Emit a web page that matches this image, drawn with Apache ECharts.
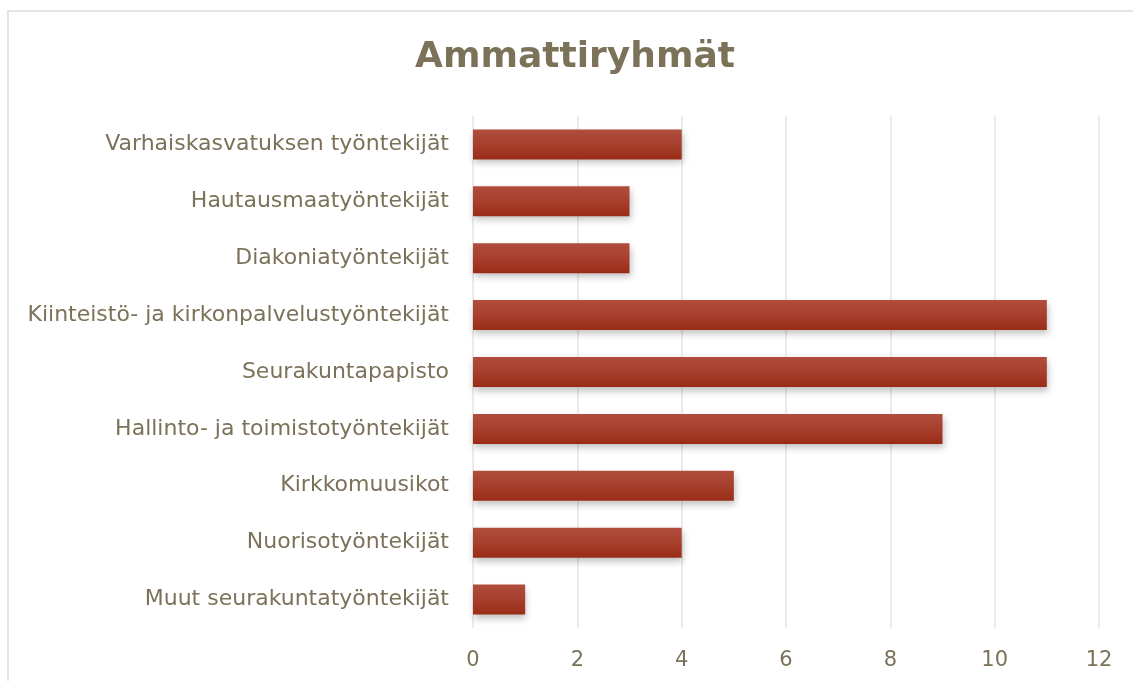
<!DOCTYPE html>
<html>
<head>
<meta charset="utf-8">
<title>Ammattiryhmät</title>
<script src="https://cdn.jsdelivr.net/npm/echarts@6/dist/echarts.min.js"></script>
<style>
  html, body { margin: 0; padding: 0; background: #fff; }
  #chart { width: 1133px; height: 681px; }
</style>
</head>
<body>
<div id="chart"></div>
<script>
  // categories listed bottom to top (ECharts category y axis starts at the bottom)
  var categories = [
    'Muut seurakuntatyöntekijät',
    'Nuorisotyöntekijät',
    'Kirkkomuusikot',
    'Hallinto- ja toimistotyöntekijät',
    'Seurakuntapapisto',
    'Kiinteistö- ja kirkonpalvelustyöntekijät',
    'Diakoniatyöntekijät',
    'Hautausmaatyöntekijät',
    'Varhaiskasvatuksen työntekijät'
  ];
  var counts = [1, 4, 5, 9, 11, 11, 3, 3, 4];

  var textColor = '#7b7259';
  var gridColor = '#e6e5df';
  var font = 'DejaVu Sans';

  var chart = echarts.init(document.getElementById('chart'));
  chart.setOption({
    animation: false,
    title: {
      text: 'Ammattiryhmät',
      left: 570,
      top: 35,
      textAlign: 'center',
      textStyle: {
        color: textColor,
        fontFamily: font,
        fontWeight: 'bold',
        fontSize: 36
      }
    },
    graphic: [{
      type: 'rect',
      shape: { x: 8, y: 11, width: 1140, height: 680 },
      style: { fill: null, stroke: gridColor, lineWidth: 2 },
      silent: true
    }],
    grid: {
      left: 473,
      right: 34,
      top: 116,
      bottom: 53
    },
    xAxis: {
      type: 'value',
      min: 0,
      max: 12,
      interval: 2,
      axisLine: { show: false },
      axisTick: { show: false },
      splitLine: { lineStyle: { color: gridColor, width: 1.5 } },
      axisLabel: {
        color: textColor,
        fontFamily: font,
        fontSize: 21,
        margin: 22
      }
    },
    yAxis: {
      type: 'category',
      data: categories,
      axisLine: { show: false },
      axisTick: { show: false },
      axisLabel: {
        color: textColor,
        fontFamily: font,
        fontSize: 22,
        margin: 24
      }
    },
    series: [{
      type: 'bar',
      data: counts,
      barWidth: 30,
      itemStyle: {
        color: new echarts.graphic.LinearGradient(0, 0, 0, 1, [
          { offset: 0, color: '#b04d3d' },
          { offset: 0.45, color: '#a8412f' },
          { offset: 1, color: '#992c16' }
        ]),
        shadowColor: 'rgba(0,0,0,0.25)',
        shadowBlur: 7,
        shadowOffsetX: 1,
        shadowOffsetY: 4
      }
    }]
  });
</script>
</body>
</html>
